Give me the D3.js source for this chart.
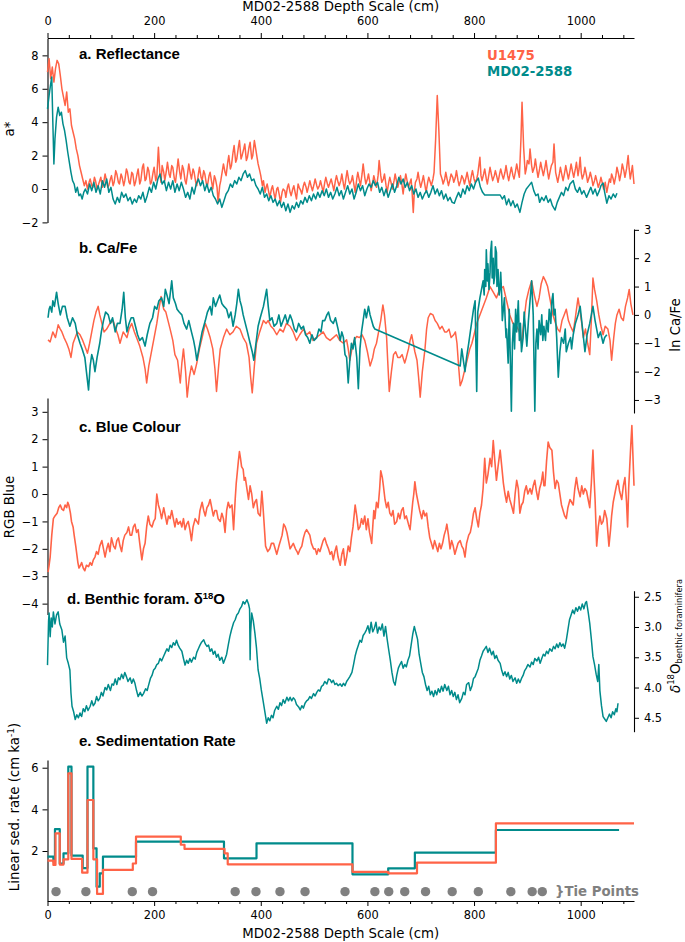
<!DOCTYPE html>
<html><head><meta charset="utf-8">
<script src="https://cdn.jsdelivr.net/npm/d3@7"></script>
<style>
body{margin:0;background:#fff;}
svg{display:block;background:#fff;}
</style></head><body>
<svg id="chart" width="685" height="942"></svg>
<script>
// ---------------- DATA ----------------
const depthMajorTicks = [0,200,400,600,800,1000];
const depthMinorTicks = [40,80,120,160,240,280,320,360,440,480,520,560,640,680,720,760,840,880,920,960,1040,1080];
const aStarTicks = [-2,0,2,4,6,8];
const caFeTicks = [-3,-2,-1,0,1,2,3];
const blueTicks = [-4,-3,-2,-1,0,1,2,3];
const d18OTicks = [2.5,3.0,3.5,4.0,4.5];
const sedTicks = [2,4,6];
const seriesNames = ["U1475","MD02-2588"];

// a* reflectance, U1475 [depth cm, a*]
const u1475AStar = [[0,7.0],[3,7.8],[6,6.6],[9,7.3],[12,6.4],[15,7.2],[18,7.7],[21,7.5],[24,6.8],[27,6.0],[30,5.5],[33,5.0],[36,5.8],[39,4.6],[42,4.8],[45,3.8],[48,3.4],[51,3.0],[54,2.4],[57,2.0],[60,1.4],[63,1.0],[66,0.6],[69,0.2],[72,0.5],[75,0.0],[78,0.4],[80,0.6],[83,0.2],[85,0.1],[88,0.7],[90,0.5],[93,0.0],[95,0.2],[98,0.5],[100,0.7],[103,0.1],[105,0.3],[108,0.9],[110,0.6],[113,0.1],[115,0.2],[118,0.6],[120,0.8],[123,0.2],[125,0.4],[128,1.1],[130,0.9],[133,0.4],[135,0.3],[138,0.9],[140,0.7],[143,0.2],[145,0.5],[148,1.2],[150,1.0],[153,0.4],[155,0.3],[158,1.0],[160,0.9],[163,0.2],[165,0.4],[168,0.9],[170,1.2],[173,0.3],[175,0.5],[178,1.3],[180,1.5],[183,0.5],[185,0.6],[188,1.3],[190,1.1],[193,0.3],[195,0.4],[198,1.0],[200,1.3],[203,0.5],[205,0.7],[208,2.5],[211,0.8],[213,0.4],[215,1.4],[218,1.0],[220,0.5],[223,1.1],[225,1.6],[228,0.9],[230,0.7],[233,1.4],[235,1.3],[238,0.6],[240,0.4],[243,1.2],[245,1.8],[248,1.0],[250,0.6],[253,1.4],[255,1.2],[258,0.5],[260,0.3],[263,1.0],[265,1.5],[268,0.9],[270,0.6],[273,1.2],[275,1.0],[278,0.4],[280,0.2],[283,0.9],[285,1.3],[288,0.7],[290,0.5],[293,1.1],[295,0.9],[298,0.3],[300,0.2],[303,0.8],[305,1.0],[308,0.4],[310,0.0],[313,0.8],[315,0.6],[318,0.1],[320,-0.8],[323,0.2],[325,0.5],[328,1.1],[330,1.5],[333,1.0],[335,0.8],[338,1.6],[340,2.0],[343,1.2],[345,1.4],[348,2.2],[350,2.6],[353,1.6],[355,1.8],[358,2.5],[360,2.9],[363,1.8],[365,2.0],[368,2.4],[370,2.7],[373,1.7],[375,1.9],[378,2.5],[380,2.8],[383,1.8],[385,2.0],[388,2.9],[390,2.5],[393,1.9],[395,1.5],[398,1.1],[400,0.8],[403,0.2],[405,0.5],[408,-0.2],[410,0.1],[412,0.3],[415,-0.2],[417,-0.5],[420,0.0],[422,0.2],[425,-0.3],[427,-0.6],[430,0.0],[432,0.1],[435,-0.4],[437,-0.8],[440,-0.2],[442,0.0],[445,-0.1],[447,-0.5],[450,0.1],[452,0.3],[455,-0.2],[457,-0.4],[460,0.0],[462,0.2],[465,-0.3],[467,-0.6],[470,0.3],[472,0.1],[475,-0.1],[477,-0.3],[480,0.2],[482,0.4],[485,0.1],[487,-0.2],[490,0.2],[492,0.5],[495,0.1],[497,-0.1],[500,0.3],[502,0.6],[505,0.2],[507,0.0],[510,0.2],[512,0.5],[515,0.1],[517,-0.2],[520,0.4],[522,0.7],[525,0.3],[527,0.1],[530,0.4],[532,0.6],[535,0.2],[537,-0.1],[540,0.5],[542,0.8],[545,0.4],[547,0.2],[550,0.5],[552,0.9],[555,0.3],[557,0.0],[560,0.7],[562,1.1],[565,0.5],[567,0.3],[570,0.5],[572,0.8],[575,0.2],[577,-0.2],[580,0.6],[582,1.0],[585,0.5],[587,0.2],[590,0.9],[592,1.5],[595,0.7],[597,0.3],[600,0.6],[602,0.9],[605,0.3],[607,-0.1],[610,0.4],[612,0.8],[615,0.4],[617,0.1],[620,0.8],[622,1.7],[625,0.8],[627,0.4],[630,0.6],[632,0.9],[635,0.2],[637,-0.2],[640,0.4],[642,0.7],[645,0.3],[647,0.0],[650,0.5],[652,0.9],[655,0.4],[657,0.1],[660,0.5],[662,0.8],[665,0.2],[667,-0.3],[670,0.5],[672,0.9],[675,0.4],[677,0.1],[680,0.4],[682,0.6],[684,-0.3],[686,-1.4],[688,-0.2],[690,0.4],[693,0.6],[695,1.0],[698,0.4],[700,0.1],[703,0.5],[705,0.8],[708,0.2],[710,-0.2],[713,0.4],[715,0.7],[718,0.4],[720,0.2],[723,0.6],[725,1.0],[728,3.0],[731,5.6],[734,3.5],[737,0.9],[740,0.6],[742,0.3],[745,0.6],[747,1.0],[750,0.5],[752,0.2],[755,0.6],[757,0.9],[760,0.7],[762,0.4],[765,0.7],[767,1.1],[770,0.5],[772,0.2],[775,0.5],[777,0.8],[780,0.6],[782,0.3],[785,0.7],[787,1.0],[790,0.5],[792,0.2],[795,0.8],[797,1.1],[800,0.6],[802,0.4],[805,0.6],[807,0.9],[811,1.9],[813,0.8],[815,0.5],[818,0.9],[820,1.2],[823,0.6],[825,0.3],[828,0.9],[830,1.3],[833,0.8],[835,0.5],[838,0.8],[840,1.1],[843,0.7],[845,0.4],[848,0.9],[850,1.2],[853,0.8],[855,0.6],[858,1.0],[860,1.4],[863,0.8],[865,0.5],[868,1.0],[870,1.3],[873,0.8],[875,0.6],[878,1.1],[880,1.5],[883,1.0],[885,0.7],[888,3.0],[890,5.2],[893,2.5],[896,0.9],[898,1.2],[900,1.7],[903,1.5],[905,2.4],[908,1.4],[910,1.0],[913,1.3],[915,1.8],[918,1.1],[920,0.7],[923,1.2],[925,1.6],[928,1.1],[930,0.8],[933,1.3],[935,1.7],[938,1.0],[940,0.6],[943,1.1],[945,1.4],[948,1.6],[950,2.7],[953,1.0],[955,0.7],[957,0.4],[960,0.9],[962,1.3],[965,0.8],[967,0.5],[970,1.0],[972,1.4],[975,0.9],[977,0.6],[980,1.1],[982,1.5],[985,1.0],[987,0.7],[990,1.2],[992,1.6],[995,0.8],[997,1.2],[999,1.9],[1001,1.0],[1003,0.6],[1006,0.9],[1008,1.3],[1011,0.8],[1013,0.4],[1016,0.7],[1018,1.0],[1021,0.6],[1023,0.2],[1026,0.5],[1028,0.8],[1031,0.4],[1033,0.1],[1036,0.4],[1038,0.7],[1041,0.3],[1043,0.0],[1046,0.4],[1049,-0.2],[1052,0.3],[1054,0.6],[1056,0.4],[1058,0.9],[1061,0.6],[1063,0.3],[1066,0.8],[1068,1.3],[1071,0.9],[1073,0.5],[1076,1.0],[1078,1.5],[1081,1.1],[1083,0.7],[1086,1.2],[1089,2.0],[1091,1.2],[1093,0.6],[1095,1.0],[1097,1.4],[1100,0.3]];

// a* reflectance, MD02-2588
const md02AStar = [[0,4.8],[3,5.6],[6,6.3],[8,6.7],[10,4.0],[12,1.5],[14,3.0],[17,4.3],[20,4.9],[23,4.4],[26,4.6],[29,3.9],[32,3.5],[35,2.9],[38,2.2],[41,1.6],[44,1.0],[47,0.5],[50,0.3],[53,-0.2],[56,0.1],[59,-0.4],[62,-0.3],[65,-0.6],[68,-0.2],[71,0.0],[75,-0.3],[79,0.3],[83,-0.1],[87,0.4],[91,-0.2],[95,0.2],[99,-0.3],[103,0.5],[107,0.1],[111,0.6],[115,-0.2],[119,0.1],[123,-0.6],[127,-0.9],[131,-0.5],[135,-0.8],[139,-0.2],[143,-0.5],[147,-0.3],[151,-0.7],[155,-0.5],[159,-0.9],[163,-0.6],[167,-0.8],[171,-0.4],[175,-0.6],[179,-0.2],[183,-0.8],[187,-0.4],[191,0.1],[195,-0.2],[199,0.4],[203,0.0],[207,0.6],[211,0.9],[215,0.3],[219,0.5],[223,-0.1],[227,0.4],[231,0.0],[235,0.5],[239,-0.2],[243,0.3],[247,-0.1],[251,0.4],[255,0.0],[259,-0.5],[263,-0.2],[267,-0.6],[271,0.1],[275,-0.3],[279,0.3],[283,0.6],[287,0.2],[291,0.5],[295,-0.1],[299,0.3],[303,-0.2],[307,0.1],[311,-0.4],[315,-0.6],[319,-0.9],[323,-0.6],[327,-1.1],[331,-0.7],[335,-0.3],[339,-0.1],[343,0.3],[347,0.1],[351,0.5],[355,0.3],[359,0.7],[363,0.5],[367,0.9],[371,1.1],[375,0.7],[379,0.9],[383,0.5],[387,0.6],[391,0.2],[395,0.0],[399,-0.3],[403,0.1],[407,-0.5],[411,-0.3],[415,-0.7],[419,-0.4],[423,-0.8],[427,-0.6],[431,-1.0],[435,-0.7],[439,-1.1],[443,-0.8],[447,-1.3],[451,-0.9],[455,-1.4],[459,-1.0],[463,-1.2],[467,-0.8],[471,-1.1],[475,-0.7],[479,-0.9],[483,-0.5],[487,-0.8],[491,-0.4],[495,-0.7],[499,-0.3],[503,-0.6],[507,-0.2],[511,-0.5],[515,-0.1],[519,-0.4],[523,0.0],[527,-0.5],[531,-0.2],[535,-0.6],[539,-0.3],[543,0.1],[547,-0.4],[551,-0.1],[555,-0.6],[559,-0.2],[563,0.2],[567,-0.3],[571,0.0],[575,-0.6],[579,-0.2],[583,0.3],[587,-0.1],[591,0.2],[595,-0.4],[599,0.0],[603,0.3],[607,0.1],[611,0.5],[615,0.2],[619,0.4],[623,-0.2],[627,0.1],[631,-0.4],[635,0.0],[639,-0.5],[643,-0.1],[647,0.3],[651,-0.2],[655,0.2],[659,0.7],[663,0.3],[667,0.6],[671,0.1],[675,0.4],[679,-0.1],[683,0.2],[687,-0.3],[691,0.0],[695,-0.5],[699,-0.2],[703,-0.6],[707,-0.3],[711,-0.1],[715,-0.5],[719,-0.2],[723,0.2],[727,-0.3],[731,0.0],[735,-0.4],[739,-0.1],[743,-0.6],[747,-0.3],[751,-0.7],[755,-0.5],[759,-0.8],[763,-0.85],[767,-0.5],[771,-0.2],[775,-0.5],[779,0.0],[783,-0.3],[787,0.2],[791,-0.1],[795,0.3],[799,0.0],[803,0.4],[808,0.65],[812,0.1],[816,-0.2],[820,-0.36],[849,-0.36],[853,-0.6],[857,-0.4],[861,-0.95],[865,-0.6],[869,-1.0],[873,-0.7],[877,-1.1],[881,-0.9],[886,-1.4],[890,-0.8],[894,-0.3],[898,0.0],[903,0.2],[908,0.4],[912,-0.1],[916,-0.4],[920,-0.3],[923,-0.8],[927,-0.5],[931,-0.7],[935,-0.4],[939,-0.8],[943,-0.6],[947,-1.0],[952,-1.26],[956,-0.8],[960,-0.5],[964,-0.2],[968,-0.4],[972,0.1],[976,-0.1],[980,0.3],[986,0.5],[990,0.0],[994,-0.2],[998,0.1],[1002,-0.3],[1006,-0.1],[1011,-0.5],[1015,-0.2],[1019,0.1],[1023,-0.3],[1027,0.0],[1031,-0.4],[1035,-0.1],[1038,0.2],[1042,0.36],[1045,-0.2],[1049,-0.85],[1053,-0.4],[1057,-0.6],[1061,-0.3],[1065,-0.5],[1068,-0.25]];

// ln Ca/Fe, U1475
const u1475CaFe = [[1,-0.88],[5,-0.95],[10,-0.6],[15,-0.8],[20,-0.35],[24,-0.5],[27,-0.6],[31,-0.8],[36,-1.0],[40,-1.2],[44,-1.5],[48,-1.0],[52,-0.8],[56,-0.6],[61,-0.7],[66,-0.9],[70,-1.1],[75,-1.35],[79,-1.0],[83,-0.6],[87,-0.2],[91,0.1],[95,0.3],[98,0.0],[102,-0.3],[106,-0.6],[111,-0.5],[117,-0.3],[123,-0.2],[128,-0.5],[132,-0.7],[136,-1.0],[142,-0.6],[149,-0.8],[153,-0.5],[158,-0.3],[163,-0.6],[167,-0.8],[173,-1.1],[179,-1.5],[183,-1.9],[186,-2.4],[190,-1.8],[196,-1.2],[200,-0.8],[205,-0.3],[209,0.2],[213,0.65],[218,0.2],[222,0.1],[226,-0.2],[230,-0.5],[235,-0.9],[239,-1.4],[244,-1.6],[249,-2.4],[252,-1.7],[255,-1.2],[259,-2.0],[262,-2.9],[266,-2.2],[270,-1.8],[275,-2.1],[280,-1.7],[285,-1.2],[290,-0.8],[296,-0.3],[300,-0.5],[305,-0.8],[310,-1.2],[314,-1.9],[317,-2.7],[321,-1.8],[324,-1.2],[330,-0.8],[336,-0.5],[342,-0.7],[348,-0.6],[354,-0.4],[361,-0.5],[367,-0.8],[373,-1.0],[378,-1.5],[381,-2.2],[384,-2.75],[388,-1.8],[392,-1.0],[398,-0.6],[405,-0.2],[410,-0.3],[414,-0.2],[419,-0.4],[424,-0.5],[430,-0.7],[436,-0.5],[442,-0.6],[448,-0.3],[455,-0.4],[461,-0.6],[467,-0.9],[473,-0.7],[480,-0.5],[486,-0.7],[492,-0.6],[498,-0.9],[504,-0.8],[511,-0.7],[517,-0.6],[523,-0.8],[530,-0.9],[536,-0.8],[542,-0.7],[548,-0.9],[555,-1.0],[561,-0.88],[564,-1.2],[567,-1.6],[571,-1.2],[575,-0.9],[580,-0.76],[585,-0.8],[590,-0.7],[595,-0.9],[600,-1.3],[605,-1.8],[610,-1.5],[613,-1.2],[617,-1.0],[621,-0.6],[625,-0.2],[629,0.35],[632,0.0],[636,-0.8],[638,-1.6],[641,-2.7],[645,-2.0],[649,-1.4],[653,-1.3],[657,-1.5],[661,-1.5],[665,-1.4],[670,-1.7],[673,-1.5],[677,-1.2],[680,-0.9],[683,-0.7],[686,-1.0],[689,-1.3],[693,-1.6],[696,-2.2],[699,-2.9],[703,-2.0],[708,-1.2],[711,-0.5],[714,-0.1],[718,0.05],[723,0.0],[727,-0.2],[731,-0.3],[736,-0.5],[740,-0.4],[745,-0.6],[749,-0.6],[753,-0.5],[757,-0.8],[762,-0.7],[765,-0.6],[768,-1.0],[771,-1.8],[774,-2.5],[778,-2.3],[783,-1.9],[787,-1.6],[792,-1.2],[796,-1.0],[800,-0.7],[805,-0.3],[811,0.0],[817,0.3],[823,0.6],[830,1.0],[836,0.8],[842,0.6],[848,0.9],[855,1.0],[861,0.5],[867,0.0],[873,-0.3],[880,-0.4],[885,-0.6],[889,-1.0],[893,-0.3],[898,0.5],[903,0.9],[908,1.2],[913,0.7],[918,0.3],[922,0.6],[926,1.1],[930,1.35],[934,1.2],[938,1.0],[943,0.5],[948,0.0],[953,-0.3],[957,-0.5],[961,-0.6],[965,-0.2],[969,0.0],[973,0.2],[977,-0.2],[981,-0.4],[986,-0.6],[990,-0.1],[995,0.6],[999,0.1],[1002,-0.3],[1005,-0.8],[1009,-0.5],[1013,-1.0],[1017,-1.4],[1020,-0.2],[1023,1.3],[1026,0.9],[1030,0.5],[1034,0.0],[1038,-0.4],[1042,-0.7],[1046,-0.4],[1051,-0.5],[1055,-0.9],[1058,-1.6],[1062,-0.8],[1065,-0.3],[1068,0.0],[1072,0.2],[1076,-0.1],[1080,-0.2],[1084,0.3],[1088,0.6],[1091,0.9],[1094,0.4],[1098,0.0]];

// ln Ca/Fe, MD02-2588 (data gap 614-774 cm drawn as a straight line)
const md02CaFe = [[1,-0.1],[3,0.2],[5,0.3],[8,0.1],[10,0.5],[13,0.3],[17,0.8],[20,0.4],[24,0.0],[28,0.3],[33,0.3],[37,-0.1],[42,-0.4],[47,-0.1],[52,-0.3],[56,-0.7],[61,-1.0],[65,-1.2],[70,-1.5],[73,-2.0],[77,-2.65],[80,-1.8],[83,-1.4],[86,-1.6],[89,-2.0],[93,-1.5],[98,-1.0],[101,-0.6],[105,-0.2],[109,0.1],[114,0.0],[118,-0.3],[122,-0.1],[127,-0.6],[131,-0.3],[136,-0.3],[140,0.2],[143,0.8],[146,-0.1],[149,-0.6],[153,-0.3],[157,-0.1],[161,-0.1],[165,-0.4],[169,-0.7],[173,-0.9],[178,-0.8],[183,-1.1],[187,-0.7],[192,-0.3],[197,-0.1],[201,0.3],[205,0.2],[209,0.5],[214,0.6],[218,0.3],[221,0.9],[224,0.7],[228,0.4],[233,1.2],[236,0.6],[240,0.4],[243,0.2],[247,0.1],[252,0.0],[256,-0.3],[261,-0.5],[265,-0.2],[270,-0.6],[274,-0.9],[277,-1.2],[280,-1.6],[283,-1.3],[286,-1.0],[290,-0.6],[293,-0.4],[296,-0.2],[300,0.1],[305,0.3],[308,0.0],[311,0.6],[315,0.3],[319,0.5],[323,0.7],[327,0.4],[331,0.3],[336,0.2],[340,-0.1],[344,0.1],[348,-0.4],[352,0.0],[355,0.4],[358,0.9],[361,0.5],[364,0.3],[367,0.0],[371,-0.3],[375,-0.6],[380,-1.0],[384,-1.3],[387,-1.6],[391,-1.0],[395,-0.4],[399,-0.1],[402,0.1],[405,0.3],[408,0.6],[411,0.9],[414,0.3],[417,-0.2],[421,-0.1],[425,-0.4],[430,-0.3],[434,0.0],[438,-0.4],[442,-0.2],[446,0.0],[450,-0.3],[455,0.0],[459,-0.2],[463,-0.5],[467,-0.6],[471,-0.3],[476,-0.5],[480,-0.4],[484,-0.7],[488,-0.8],[492,-1.0],[496,-0.7],[500,-0.9],[505,-0.8],[509,-0.5],[513,-0.6],[516,-0.2],[520,-0.2],[524,0.0],[527,0.1],[531,-0.2],[536,-0.3],[540,-0.1],[545,-0.5],[549,-0.9],[552,-0.6],[555,-0.8],[558,-1.4],[561,-1.5],[564,-2.4],[567,-1.6],[570,-1.0],[573,-1.2],[576,-0.8],[580,-1.5],[583,-2.6],[586,-1.2],[589,-0.6],[592,-0.2],[595,0.2],[598,-0.1],[602,0.3],[605,0.0],[608,-0.2],[611,-0.4],[614,-0.5],[774,-1.8],[777,-1.2],[780,-1.6],[783,-2.0],[786,-1.5],[790,-1.0],[793,-0.6],[796,-0.2],[799,0.2],[802,0.5],[805,-2.7],[807,0.1],[811,0.6],[814,0.9],[817,1.2],[819,0.7],[820,1.6],[822,1.0],[823,2.3],[825,1.2],[826,1.8],[828,0.9],[830,1.5],[831,2.2],[833,2.6],[834,1.3],[836,2.0],[837,1.1],[839,1.4],[840,2.4],[842,2.2],[843,1.0],[845,1.6],[847,0.7],[849,1.0],[850,1.5],[852,0.6],[853,-0.2],[855,0.2],[857,0.6],[858,0.0],[860,-0.8],[861,-0.5],[864,-1.7],[866,0.2],[867,-0.6],[870,-3.4],[872,-1.0],[874,-0.3],[876,-1.2],[878,0.2],[880,-0.6],[883,0.5],[885,-0.9],[887,-0.3],[889,-1.3],[892,-0.8],[894,0.1],[896,-0.4],[899,-1.1],[902,-0.2],[905,0.5],[908,1.2],[911,0.0],[914,-3.4],[916,-1.0],[918,-0.5],[920,-1.2],[922,-0.2],[925,-0.7],[927,0.0],[929,-0.9],[931,-0.4],[934,-0.9],[936,-0.2],[939,-0.6],[941,0.2],[944,-0.3],[946,0.5],[948,0.75],[950,0.0],[952,0.2],[955,-0.8],[958,-2.2],[961,-1.3],[964,-0.8],[968,-1.0],[971,-0.5],[973,-1.3],[977,-1.0],[981,-0.8],[983,-1.2],[986,-0.7],[990,-0.3],[995,0.0],[999,0.3],[1003,-0.4],[1008,-1.3],[1012,-0.7],[1017,-0.3],[1020,0.0],[1023,0.3],[1027,-0.2],[1030,-0.5],[1033,-0.8],[1037,-0.6],[1042,-1.0],[1045,-0.8],[1049,-0.7]];

// RGB Blue, U1475
const u1475Blue = [[1,-2.85],[3,-2.6],[5,-2.3],[8,-1.5],[11,-0.9],[14,-0.8],[18,-0.7],[21,-0.5],[24,-0.4],[27,-0.55],[30,-0.6],[33,-0.4],[36,-0.5],[38,-0.3],[40,-0.4],[43,-0.7],[45,-1.0],[48,-1.2],[50,-1.5],[53,-1.9],[55,-2.2],[57,-2.5],[59,-2.7],[62,-2.6],[64,-2.5],[67,-2.7],[70,-2.8],[73,-2.6],[77,-2.65],[80,-2.5],[83,-2.6],[86,-2.4],[89,-2.3],[92,-2.1],[95,-2.2],[98,-1.9],[102,-1.7],[105,-2.0],[108,-2.3],[111,-2.0],[114,-1.8],[117,-2.1],[120,-1.6],[124,-1.9],[127,-2.0],[130,-1.7],[133,-1.6],[136,-1.9],[139,-2.1],[142,-1.7],[145,-1.5],[149,-1.4],[152,-1.2],[155,-1.5],[158,-1.5],[161,-1.2],[164,-1.1],[167,-1.4],[170,-1.3],[173,-1.8],[177,-2.4],[180,-2.0],[183,-1.8],[186,-1.2],[189,-0.8],[192,-1.1],[196,-1.2],[199,-1.0],[202,-0.9],[205,0.0],[208,-0.4],[211,-0.6],[214,-0.9],[218,-0.5],[221,-0.8],[224,-1.1],[227,-0.8],[230,-0.9],[233,-0.6],[236,-0.9],[239,-1.2],[242,-0.9],[245,-1.1],[249,-1.0],[252,-1.2],[255,-0.9],[258,-1.3],[261,-1.1],[264,-1.0],[267,-1.3],[270,-1.7],[273,-1.2],[277,-0.9],[280,-1.0],[283,-1.1],[286,-0.6],[290,-0.3],[293,-0.6],[296,-0.8],[299,-0.5],[302,-0.4],[305,-0.2],[308,-0.5],[311,-0.8],[314,-0.6],[317,-0.6],[320,-0.9],[324,-1.0],[327,-0.7],[330,-0.9],[333,-1.4],[336,-0.6],[339,-0.3],[342,-0.5],[346,-0.4],[349,-1.3],[352,-0.2],[354,0.4],[356,0.8],[358,1.2],[360,1.55],[362,1.3],[364,1.0],[367,0.9],[369,0.5],[371,0.6],[374,0.2],[377,-0.2],[380,0.3],[383,0.0],[386,-0.5],[389,-0.3],[392,-0.2],[395,-0.7],[399,-0.8],[402,0.1],[404,-0.4],[406,-1.0],[409,-1.9],[413,-2.1],[417,-2.0],[420,-1.8],[424,-1.8],[427,-2.0],[430,-2.2],[434,-1.9],[437,-1.7],[440,-1.5],[443,-1.1],[446,-1.2],[449,-1.4],[452,-1.7],[455,-2.0],[458,-1.9],[461,-1.8],[465,-2.0],[468,-2.1],[470,-2.2],[474,-2.0],[477,-1.9],[480,-1.6],[483,-1.4],[486,-1.3],[489,-1.4],[492,-1.5],[495,-1.8],[499,-2.0],[502,-2.0],[505,-2.2],[508,-2.0],[511,-2.1],[514,-1.9],[517,-1.7],[520,-1.6],[523,-1.8],[527,-2.0],[530,-2.2],[533,-2.1],[536,-2.4],[539,-2.1],[542,-1.9],[545,-2.3],[549,-2.6],[552,-2.2],[555,-2.0],[558,-2.6],[561,-2.3],[564,-1.9],[567,-2.1],[570,-1.6],[573,-1.2],[577,-0.4],[580,-0.8],[583,-1.3],[586,-1.2],[589,-0.9],[592,-1.1],[595,-0.8],[598,-1.3],[601,-0.9],[604,-1.4],[608,-1.8],[612,-0.6],[614,-0.9],[617,-0.3],[620,-0.5],[623,0.2],[625,0.85],[628,0.6],[630,0.3],[633,-0.2],[636,-0.5],[639,-0.3],[642,-0.7],[645,-0.8],[648,-0.6],[651,-1.1],[655,-1.0],[658,-0.7],[661,-0.9],[664,-0.6],[667,-0.5],[670,-0.9],[673,-0.8],[677,-1.1],[680,-1.3],[683,-0.7],[685,-0.3],[687,0.0],[689,0.45],[692,0.0],[695,-0.3],[698,-0.6],[702,-0.9],[705,-0.6],[708,-0.8],[711,-0.7],[714,-1.2],[717,-1.6],[720,-1.8],[723,-2.0],[726,-1.7],[729,-1.9],[732,-2.1],[735,-1.8],[738,-2.0],[741,-1.8],[744,-1.5],[747,-1.3],[749,-1.1],[752,-1.5],[755,-2.0],[758,-1.7],[761,-1.9],[764,-2.2],[767,-2.0],[770,-1.8],[774,-1.7],[777,-1.9],[780,-2.0],[783,-2.3],[786,-1.8],[790,-1.5],[793,-1.4],[796,-1.1],[799,-0.7],[802,-0.5],[805,-0.9],[808,-1.2],[811,-0.7],[814,-0.4],[817,0.2],[820,1.3],[823,0.4],[826,0.7],[830,1.3],[833,1.0],[836,1.95],[839,1.2],[842,0.5],[845,1.0],[849,1.6],[852,1.0],[855,0.4],[858,0.0],[861,-0.3],[864,0.1],[867,-0.2],[870,-0.4],[874,-0.7],[877,0.0],[880,0.5],[883,0.2],[886,-0.7],[889,-0.4],[892,-0.3],[895,0.1],[898,0.3],[901,0.0],[905,0.2],[908,0.0],[911,0.3],[914,0.5],[917,0.1],[920,-0.2],[923,0.2],[926,0.4],[929,0.8],[931,0.3],[933,0.3],[936,1.2],[939,1.9],[942,1.7],[946,1.6],[949,0.8],[952,0.2],[955,0.5],[958,0.4],[961,0.0],[964,-0.4],[967,-0.6],[970,-0.8],[973,-0.9],[976,-0.5],[980,-0.2],[983,-0.3],[986,-0.4],[989,0.2],[992,0.6],[995,0.2],[999,-0.1],[1002,0.3],[1005,0.0],[1008,0.2],[1011,0.1],[1014,-0.2],[1017,-0.5],[1020,0.4],[1023,1.6],[1025,0.6],[1027,-0.2],[1030,-1.9],[1033,-1.2],[1036,-0.8],[1039,-1.1],[1042,-1.0],[1045,-0.6],[1049,-0.9],[1053,-1.9],[1056,-1.3],[1058,-0.8],[1061,-0.3],[1064,0.0],[1067,0.3],[1070,0.5],[1073,0.1],[1077,-0.2],[1080,0.3],[1083,0.6],[1086,-0.3],[1088,-1.2],[1090,0.2],[1092,1.0],[1094,1.8],[1096,2.5],[1098,1.4],[1100,0.3]];

// benthic foram d18O, MD02-2588
const md02D18O = [[0,3.63],[2,2.9],[3,2.77],[5,3.16],[7,2.85],[9,3.0],[11,2.75],[14,2.95],[17,2.8],[20,2.75],[23,2.95],[27,3.05],[30,3.25],[33,3.15],[36,3.51],[39,3.6],[42,3.71],[44,4.09],[46,4.31],[49,4.4],[52,4.53],[55,4.45],[58,4.5],[61,4.42],[64,4.48],[67,4.35],[70,4.4],[73,4.3],[76,4.38],[80,4.31],[83,4.22],[86,4.3],[89,4.26],[92,4.15],[95,4.22],[98,4.18],[101,4.08],[104,4.14],[108,4.0],[111,4.04],[114,3.95],[118,4.05],[121,3.94],[124,3.96],[127,3.86],[130,3.95],[133,3.84],[136,3.87],[139,3.78],[142,3.85],[145,3.75],[148,3.82],[151,3.9],[155,3.84],[158,3.93],[161,3.86],[164,3.93],[167,4.05],[170,4.15],[174,4.08],[177,4.14],[180,4.1],[184,4.02],[187,4.05],[189,3.98],[193,3.85],[196,3.8],[199,3.71],[202,3.68],[205,3.62],[208,3.6],[211,3.52],[214,3.56],[218,3.48],[221,3.42],[224,3.36],[227,3.4],[230,3.3],[233,3.34],[236,3.26],[239,3.3],[242,3.22],[245,3.3],[248,3.35],[252,3.4],[255,3.52],[258,3.63],[261,3.55],[264,3.6],[267,3.52],[270,3.58],[274,3.5],[277,3.53],[280,3.42],[283,3.36],[286,3.3],[289,3.25],[293,3.21],[296,3.28],[299,3.32],[302,3.3],[305,3.4],[308,3.36],[311,3.45],[314,3.4],[317,3.5],[320,3.45],[323,3.55],[327,3.5],[330,3.6],[333,3.53],[336,3.45],[339,3.3],[342,3.16],[345,3.05],[349,2.93],[352,2.88],[355,2.8],[358,2.77],[361,2.7],[364,2.66],[367,2.58],[370,2.62],[374,2.55],[377,2.62],[379,2.7],[380,3.54],[381,3.1],[383,2.77],[386,2.9],[389,3.1],[392,3.35],[395,3.71],[398,3.85],[401,4.04],[404,4.2],[408,4.42],[411,4.59],[414,4.5],[417,4.55],[420,4.46],[423,4.5],[426,4.38],[430,4.31],[433,4.36],[436,4.25],[439,4.3],[442,4.2],[445,4.26],[449,4.16],[452,4.22],[455,4.16],[458,4.22],[461,4.17],[464,4.2],[467,4.28],[471,4.32],[474,4.37],[477,4.3],[480,4.34],[483,4.26],[486,4.22],[489,4.2],[492,4.15],[495,4.18],[499,4.1],[502,4.14],[505,4.08],[508,4.04],[511,4.06],[514,3.98],[517,3.96],[520,3.9],[524,3.94],[527,3.86],[530,3.87],[533,3.92],[536,3.88],[539,3.95],[542,3.93],[545,3.97],[549,3.94],[552,3.98],[555,3.93],[558,3.97],[561,3.9],[564,3.86],[567,3.82],[571,3.75],[574,3.62],[577,3.48],[580,3.38],[583,3.3],[586,3.22],[589,3.25],[592,3.14],[595,3.1],[598,3.05],[601,2.98],[604,3.1],[607,2.92],[610,3.08],[613,3.02],[616,2.92],[619,3.1],[622,3.0],[625,3.05],[628,2.95],[631,3.15],[634,2.99],[637,3.2],[640,3.38],[643,3.55],[646,3.75],[649,3.9],[652,3.96],[655,3.8],[658,3.68],[661,3.62],[664,3.57],[667,3.68],[670,3.62],[673,3.66],[676,3.55],[679,3.48],[682,3.3],[685,3.12],[688,2.99],[691,3.1],[694,3.2],[697,3.45],[700,3.6],[703,3.75],[706,3.82],[709,3.95],[712,4.05],[715,3.98],[718,4.12],[721,4.06],[724,4.15],[727,4.05],[730,4.12],[733,4.02],[736,4.08],[739,3.98],[742,4.06],[745,3.95],[749,4.05],[752,3.98],[755,4.12],[758,4.05],[761,4.15],[764,4.08],[767,4.2],[770,4.12],[773,4.25],[777,4.18],[780,4.08],[783,4.12],[786,3.95],[790,3.92],[793,4.05],[796,3.98],[799,3.85],[802,3.82],[805,3.75],[808,3.68],[811,3.55],[814,3.48],[817,3.4],[820,3.36],[823,3.32],[826,3.42],[829,3.35],[833,3.46],[836,3.4],[839,3.52],[842,3.47],[845,3.55],[849,3.6],[852,3.72],[855,3.8],[858,3.74],[861,3.82],[864,3.75],[867,3.86],[870,3.8],[873,3.9],[877,3.84],[880,3.93],[883,3.86],[886,3.92],[889,3.85],[892,3.8],[895,3.72],[898,3.68],[901,3.62],[905,3.66],[908,3.58],[911,3.62],[914,3.52],[918,3.56],[921,3.5],[924,3.6],[927,3.52],[930,3.45],[933,3.48],[936,3.4],[939,3.44],[942,3.36],[946,3.4],[949,3.32],[952,3.36],[955,3.28],[958,3.34],[961,3.26],[964,3.32],[967,3.28],[970,3.35],[973,3.22],[976,3.05],[979,2.88],[982,2.8],[985,2.72],[988,2.78],[991,2.68],[994,2.74],[997,2.66],[1000,2.72],[1003,2.62],[1006,2.7],[1009,2.6],[1011,2.58],[1014,2.75],[1017,2.94],[1020,3.2],[1023,3.49],[1026,3.62],[1029,3.78],[1032,3.9],[1034,3.62],[1036,4.05],[1039,4.3],[1042,4.48],[1045,4.52],[1048,4.56],[1051,4.5],[1054,4.44],[1057,4.5],[1060,4.4],[1063,4.45],[1066,4.35],[1068,4.4],[1070,4.26]];

// linear sedimentation rate steps [start depth, rate]; last entry closes the final step
const md02SedRate = [[0,1.73],[11,1.49],[14,3.05],[23,1.4],[30,1.89],[39,6.05],[45,1.78],[66,1.18],[75,6.05],[86,2.13],[92,0.29],[98,0.93],[104,1.73],[166,2.45],[331,1.65],[392,2.37],[572,0.88],[639,1.17],[689,1.92],[841,3.01],[1072,3.01]];
const u1475SedRate = [[0,1.54],[11,1.33],[15,2.85],[23,1.35],[30,1.6],[39,5.73],[45,1.62],[65,0.96],[75,4.45],[86,1.6],[93,-0.06],[104,1.09],[160,1.4],[166,2.69],[250,2.3],[257,2.1],[332,1.89],[338,1.36],[572,1.0],[639,0.93],[693,1.44],[841,3.33],[1100,3.33]];

// tie point depths (cm)
const tiePoints = [16,72,159,197,352,391,436,483,558,614,640,670,709,759,808,869,909,928];
const tiePointLevel = 0.05;

// ---------------- STYLE ----------------
const COL_U = "#ff6347";
const COL_M = "#008b8b";
const COL_TIE = "#808080";
const TICK_FONT = "DejaVu Sans";
const TITLE_FONT = "Liberation Sans, Arial, sans-serif";

const svg = d3.select("#chart");
svg.append("rect").attr("width",685).attr("height",942).attr("fill","#fff");

const x = d3.scaleLinear().domain([0,1100]).range([47.5,634]);
const yA = d3.scaleLinear().domain([-2,9.04]).range([222.4,38]);
const yB = d3.scaleLinear().domain([-3.46,3.03]).range([413,229]);
const yC = d3.scaleLinear().domain([-4.4,3.5]).range([614.6,398.1]);
const yD = d3.scaleLinear().domain([2.4,4.73]).range([590.7,731.7]);
const yE = d3.scaleLinear().domain([-0.4,6.37]).range([901,760]);

function styleAxis(g){
  g.selectAll(".domain").attr("stroke","#000").attr("stroke-width",1.1);
  g.selectAll(".tick line").attr("stroke","#000").attr("stroke-width",1);
  g.selectAll(".tick text").attr("font-family",TICK_FONT).attr("font-size","11.4px").attr("fill","#000");
}

// top depth axis
svg.append("g").attr("transform","translate(0,38)")
  .call(d3.axisTop(x).tickValues(depthMajorTicks).tickSize(5).tickSizeOuter(0).tickPadding(8).tickFormat(d3.format("d")))
  .call(styleAxis);
svg.append("g").attr("transform","translate(0,38)")
  .call(d3.axisTop(x).tickValues(depthMinorTicks).tickSize(3).tickFormat(""))
  .call(g=>g.select(".domain").remove()).call(styleAxis);
svg.append("text").attr("x",(x(0)+x(1100))/2).attr("y",11).attr("text-anchor","middle")
  .attr("font-family",TICK_FONT).attr("font-size","13.3px").text("MD02-2588 Depth Scale (cm)");

// bottom depth axis
svg.append("g").attr("transform","translate(0,901)")
  .call(d3.axisBottom(x).tickValues(depthMajorTicks).tickSize(5).tickSizeOuter(0).tickPadding(5).tickFormat(d3.format("d")))
  .call(styleAxis);
svg.append("g").attr("transform","translate(0,901)")
  .call(d3.axisBottom(x).tickValues(depthMinorTicks).tickSize(3).tickFormat(""))
  .call(g=>g.select(".domain").remove()).call(styleAxis);
svg.append("text").attr("x",(x(0)+x(1100))/2).attr("y",938).attr("text-anchor","middle")
  .attr("font-family",TICK_FONT).attr("font-size","13.3px").text("MD02-2588 Depth Scale (cm)");

// y axes
function leftAxis(scale, ticks, fmt){
  svg.append("g").attr("transform",`translate(${x(0)},0)`)
    .call(d3.axisLeft(scale).tickValues(ticks).tickSize(5).tickSizeOuter(0).tickPadding(4).tickFormat(fmt))
    .call(styleAxis);
}
function rightAxis(scale, ticks, fmt){
  svg.append("g").attr("transform",`translate(${x(1100)},0)`)
    .call(d3.axisRight(scale).tickValues(ticks).tickSize(5).tickSizeOuter(0).tickPadding(5).tickFormat(fmt))
    .call(styleAxis);
}
leftAxis(yA, aStarTicks, d3.format("d"));
rightAxis(yB, caFeTicks, d3.format("d"));
leftAxis(yC, blueTicks, d3.format("d"));
rightAxis(yD, d18OTicks, d3.format(".1f"));
leftAxis(yE, sedTicks, d3.format("d"));

// axis labels
function vLabel(xp, yp, txt){
  svg.append("text").attr("transform",`translate(${xp},${yp}) rotate(-90)`).attr("text-anchor","middle")
    .attr("font-family",TICK_FONT).attr("font-size","13.3px").attr("fill","#000").text(txt);
}
vLabel(14, 129, "a*");
vLabel(680, 325, "ln Ca/Fe");
vLabel(14, 507, "RGB Blue");
{
  const t = svg.append("text").attr("transform","translate(19,807) rotate(-90)").attr("text-anchor","middle")
    .attr("font-family",TICK_FONT).attr("font-size","13.3px").attr("fill","#000");
  t.append("tspan").text("Linear sed. rate (cm ka");
  t.append("tspan").attr("font-size","9px").attr("dy",-5).text("-1");
  t.append("tspan").attr("dy",5).text(")");
}
{
  const t = svg.append("text").attr("transform","translate(679.5,693) rotate(-90)").attr("text-anchor","start")
    .attr("font-family",TICK_FONT).attr("font-size","13.3px").attr("fill","#000");
  t.append("tspan").attr("font-style","italic").text("δ");
  t.append("tspan").attr("font-size","8.5px").attr("dy",-5.5).text("18");
  t.append("tspan").attr("dy",5.5).text("O");
  t.append("tspan").attr("font-size","8.3px").attr("dy",2.5).text("benthic foraminifera");
}

// panel titles
function title(xp, yp, txt){
  return svg.append("text").attr("x",xp).attr("y",yp).attr("font-family",TITLE_FONT)
    .attr("font-weight","bold").attr("font-size","15px").attr("fill","#000").text(txt);
}
title(79, 58.5, "a. Reflectance");
title(79, 252.5, "b. Ca/Fe");
title(79, 432, "c. Blue Colour");
{
  const t = title(67, 604, "d. Benthic foram. δ");
  t.append("tspan").attr("font-size","9.5px").attr("dy",-5).text("18");
  t.append("tspan").attr("dy",5).text("O");
}
title(79, 745.5, "e. Sedimentation Rate");

// legend
svg.selectAll("text.legend").data(seriesNames).join("text").attr("class","legend")
  .attr("x",487).attr("y",(d,i)=>60+i*16)
  .attr("font-family",TICK_FONT).attr("font-weight","bold").attr("font-size","13.3px")
  .attr("fill",(d,i)=>i===0?COL_U:COL_M).text(d=>d);

// lines
function drawLine(data, yScale, color, width, curve){
  const gen = d3.line().x(d=>x(d[0])).y(d=>yScale(d[1]));
  if(curve) gen.curve(curve);
  svg.append("path").datum(data).attr("d",gen).attr("fill","none")
    .attr("stroke",color).attr("stroke-width",width).attr("stroke-linejoin","round");
}
drawLine(u1475AStar, yA, COL_U, 1.5);
drawLine(md02AStar, yA, COL_M, 1.5);
drawLine(u1475CaFe, yB, COL_U, 1.5);
drawLine(md02CaFe, yB, COL_M, 1.6);
drawLine(u1475Blue, yC, COL_U, 1.6);
drawLine(md02D18O, yD, COL_M, 1.5);
drawLine(md02SedRate, yE, COL_M, 2.2, d3.curveStepAfter);
drawLine(u1475SedRate, yE, COL_U, 2.2, d3.curveStepAfter);

// tie points
svg.selectAll("circle.tie").data(tiePoints).join("circle").attr("class","tie")
  .attr("cx",d=>x(d)).attr("cy",yE(tiePointLevel)).attr("r",4.7).attr("fill",COL_TIE);
svg.append("text").attr("x",555).attr("y",896).attr("font-family",TICK_FONT).attr("font-weight","bold")
  .attr("font-size","13.3px").attr("fill",COL_TIE).text("}Tie Points");
</script>
</body></html>
